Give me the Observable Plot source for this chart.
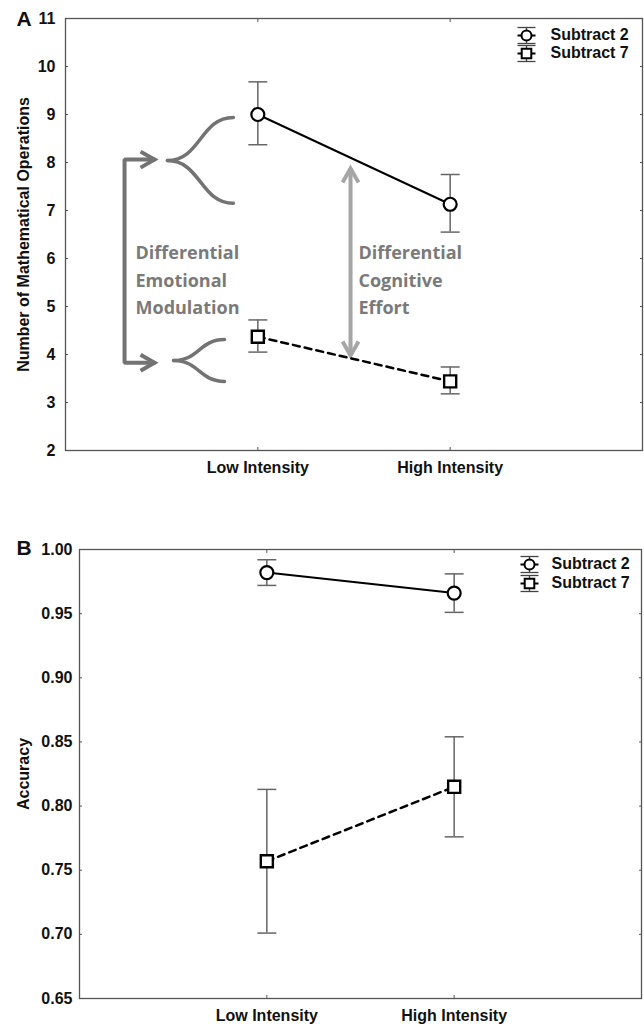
<!DOCTYPE html>
<html><head><meta charset="utf-8">
<script src="https://cdn.jsdelivr.net/npm/d3@7"></script>
<script src="https://cdn.jsdelivr.net/npm/@observablehq/plot@0.6"></script>
<style>
body{margin:0;background:#fff;}
#chart svg{display:block;}
</style></head><body><div id="chart"></div>
<script>
// ---------- data ----------
const conditions = ["Low Intensity", "High Intensity"];
const conditionPos = [1, 2];
const seriesNames = ["Subtract 2", "Subtract 7"];

// Panel A: number of mathematical operations
const opsSub2Mean = [9.00, 7.13];
const opsSub2Low  = [8.37, 6.55];
const opsSub2High = [9.68, 7.75];
const opsSub7Mean = [4.37, 3.44];
const opsSub7Low  = [4.05, 3.18];
const opsSub7High = [4.72, 3.74];
const opsTicks = [2, 3, 4, 5, 6, 7, 8, 9, 10, 11];

// Panel B: accuracy
const accSub2Mean = [0.982, 0.966];
const accSub2Low  = [0.972, 0.951];
const accSub2High = [0.992, 0.981];
const accSub7Mean = [0.757, 0.815];
const accSub7Low  = [0.701, 0.776];
const accSub7High = [0.813, 0.854];
const accTicks = [0.65, 0.70, 0.75, 0.80, 0.85, 0.90, 0.95, 1.00];

// Panel A annotations, in data units
const emoBracket = [{x: 0.463, y: 8.06}, {x: 0.307, y: 8.06}, {x: 0.307, y: 3.83}, {x: 0.463, y: 3.83}];
const emoArrowTips = [{x: 0.463, y: 8.06, angle: 0}, {x: 0.463, y: 3.83, angle: 0}];
const braceTips = [{x: 0.530, y: 8.04}, {x: 0.562, y: 3.875}];
const braceEnds = [{x: 0.873, yTop: 8.94, yBottom: 7.15}, {x: 0.827, yTop: 4.31, yBottom: 3.44}];
const cogArrowX = 1.482;
const cogArrowY = [3.98, 7.875];
const annotationLabels = ["Differential\nEmotional\nModulation", "Differential\nCognitive\nEffort"];
const annotationX = [0.364, 1.523];
const annotationTopY = 6.385;

// ---------- helpers ----------
const capSymbol = {draw(c) { c.moveTo(-9.5, 0); c.lineTo(9.5, 0); }};
const legCap = {draw(c) { c.moveTo(-9, 0); c.lineTo(9, 0); }};
const legVBar = {draw(c) { c.moveTo(0, -8); c.lineTo(0, 8); }};
const chevron = {draw(c) { c.moveTo(-14, -8); c.lineTo(0, 0); c.lineTo(-14, 8); }};

function buildRows(s2m, s2l, s2h, s7m, s7l, s7h) {
  const rows = [];
  const src = [[s2m, s2l, s2h], [s7m, s7l, s7h]];
  seriesNames.forEach((s, si) => conditionPos.forEach((x, ci) => {
    rows.push({series: s, x, mean: src[si][0][ci], lo: src[si][1][ci], hi: src[si][2][ci]});
  }));
  return rows;
}

function legendMarks(lg) {
  const marks = [];
  seriesNames.forEach((s, i) => {
    const dy = lg.dy0 + lg.gap * i;
    const common = {frameAnchor: "top-right", dx: lg.dxGlyph};
    marks.push(Plot.dot([0], {...common, dy: dy - 8, symbol: legCap, stroke: "#444", strokeWidth: 1.3, fill: "none"}));
    marks.push(Plot.dot([0], {...common, dy: dy + 8, symbol: legCap, stroke: "#444", strokeWidth: 1.3, fill: "none"}));
    marks.push(Plot.dot([0], {...common, dy, symbol: legVBar, stroke: "#444", strokeWidth: 1.3, fill: "none"}));
    marks.push(Plot.dot([0], {...common, dy, symbol: legCap, stroke: "#000", strokeWidth: 2, fill: "none"}));
    marks.push(Plot.dot([0], {...common, dy, symbol: i === 0 ? "circle" : "square", r: i === 0 ? 5 : 5.4, fill: "white", stroke: "#000", strokeWidth: 2}));
    marks.push(Plot.text([s], {frameAnchor: "top-right", dx: lg.dxText, dy: dy - 1, textAnchor: "start", lineAnchor: "middle", fontSize: 16, fontWeight: "bold", fill: "#111"}));
  });
  return marks;
}

function panel(o) {
  const rows = buildRows(...o.values);
  const s2 = rows.filter(d => d.series === seriesNames[0]);
  const s7 = rows.filter(d => d.series === seriesNames[1]);
  return Plot.plot({
    width: 644,
    height: o.height,
    marginTop: o.margins[0], marginRight: o.margins[1], marginBottom: o.margins[2], marginLeft: o.margins[3],
    style: "font-family: 'Liberation Sans', Arial, sans-serif; font-size: 16px; font-weight: bold; background: white; overflow: visible;",
    x: {domain: [0, 3], label: null},
    y: {domain: o.yDomain, label: null},
    marks: [
      Plot.frame({stroke: "#555", strokeWidth: 1.3}),
      Plot.axisY({anchor: "left", ticks: o.yTicks, tickSize: 0, tickPadding: o.yPad, tickFormat: o.yFormat, label: null, fill: "#111"}),
      Plot.axisY({anchor: "left", ticks: o.yTicks, tickSize: -3, tickFormat: () => "", label: null, stroke: "#555"}),
      Plot.axisY({anchor: "right", ticks: o.yTicks, tickSize: -3, tickFormat: () => "", label: null, stroke: "#555"}),
      Plot.axisX({anchor: "bottom", ticks: conditionPos, tickSize: 0, tickPadding: 11, tickFormat: d => conditions[d - 1], label: null, fill: "#111"}),
      Plot.axisX({anchor: "bottom", ticks: conditionPos, tickSize: -3, tickFormat: () => "", label: null, stroke: "#555"}),
      Plot.axisX({anchor: "top", ticks: conditionPos, tickSize: -3, tickFormat: () => "", label: null, stroke: "#555"}),
      Plot.text([o.yLabel], {frameAnchor: "left", rotate: -90, dx: 23 - o.margins[3], textAnchor: "middle", lineAnchor: "middle", fontSize: 16, fontWeight: "bold", fill: "#111"}),
      Plot.text([o.letter], {frameAnchor: "top-left", dx: 16 - o.margins[3], dy: o.letterDy, textAnchor: "start", lineAnchor: "middle", fontSize: 21, fontWeight: "bold", fill: "#111"}),
      ...(o.extra || []),
      Plot.ruleX(rows, {x: "x", y1: "lo", y2: "hi", stroke: "#666", strokeWidth: 1.5}),
      Plot.dot(rows, {x: "x", y: "lo", symbol: capSymbol, stroke: "#666", strokeWidth: 1.5, fill: "none"}),
      Plot.dot(rows, {x: "x", y: "hi", symbol: capSymbol, stroke: "#666", strokeWidth: 1.5, fill: "none"}),
      Plot.line(s2, {x: "x", y: "mean", stroke: "#000", strokeWidth: 2}),
      Plot.line(s7, {x: "x", y: "mean", stroke: "#000", strokeWidth: 2.5, strokeDasharray: "7,5"}),
      Plot.dot(s2, {x: "x", y: "mean", symbol: "circle", r: 6.5, fill: "white", stroke: "#000", strokeWidth: 2.2}),
      Plot.dot(s7, {x: "x", y: "mean", symbol: "square", r: 6.8, fill: "white", stroke: "#000", strokeWidth: 2.4}),
      ...legendMarks(o.legend)
    ]
  });
}

// annotation marks for panel A
const braceRows = [];
braceTips.forEach((t, i) => {
  const e = braceEnds[i];
  braceRows.push({id: i + "a", x: t.x, y: t.y}, {id: i + "a", x: e.x, y: e.yTop});
  braceRows.push({id: i + "b", x: t.x, y: t.y}, {id: i + "b", x: e.x, y: e.yBottom});
});
const cogTips = [{x: cogArrowX, y: cogArrowY[0], angle: 90}, {x: cogArrowX, y: cogArrowY[1], angle: -90}];
const annoRows = annotationLabels.map((t, i) => ({label: t, x: annotationX[i], y: annotationTopY}));
const annotationMarks = [
  Plot.line(emoBracket, {x: "x", y: "y", stroke: "#737373", strokeWidth: 4, strokeLinejoin: "miter"}),
  Plot.dot(emoArrowTips, {x: "x", y: "y", rotate: "angle", symbol: chevron, stroke: "#737373", strokeWidth: 4, fill: "none"}),
  Plot.line(braceRows, {x: "x", y: "y", z: "id", curve: "bump-x", stroke: "#737373", strokeWidth: 3.5}),
  Plot.ruleX([cogArrowX], {x: d => d, y1: cogArrowY[0], y2: cogArrowY[1], stroke: "#a6a6a6", strokeWidth: 4}),
  Plot.dot(cogTips, {x: "x", y: "y", rotate: "angle", symbol: chevron, stroke: "#a6a6a6", strokeWidth: 4, fill: "none"}),
  Plot.text(annoRows, {x: "x", y: "y", text: "label", textAnchor: "start", lineAnchor: "top", lineHeight: 1.52, fontFamily: "'Open Sans', sans-serif", fontSize: 18, fontWeight: "bold", fill: "#7a7a7a"})
];

const chartA = panel({
  letter: "A", letterDy: 1,
  yLabel: "Number of Mathematical Operations",
  yDomain: [2, 11], yTicks: opsTicks, yFormat: d3.format("d"), yPad: 10,
  values: [opsSub2Mean, opsSub2Low, opsSub2High, opsSub7Mean, opsSub7Low, opsSub7High],
  height: 490, margins: [18, 2, 40, 65],
  legend: {dxGlyph: -116, dxText: -92, dy0: 17, gap: 18},
  extra: annotationMarks
});
const chartB = panel({
  letter: "B", letterDy: -1,
  yLabel: "Accuracy",
  yDomain: [0.65, 1.0], yTicks: accTicks, yFormat: d3.format(".2f"), yPad: 7,
  values: [accSub2Mean, accSub2Low, accSub2High, accSub7Mean, accSub7Low, accSub7High],
  height: 537, margins: [59, 3, 29, 79],
  legend: {dxGlyph: -112, dxText: -90, dy0: 15, gap: 19}
});
document.getElementById("chart").append(chartA, chartB);
</script></body></html>
